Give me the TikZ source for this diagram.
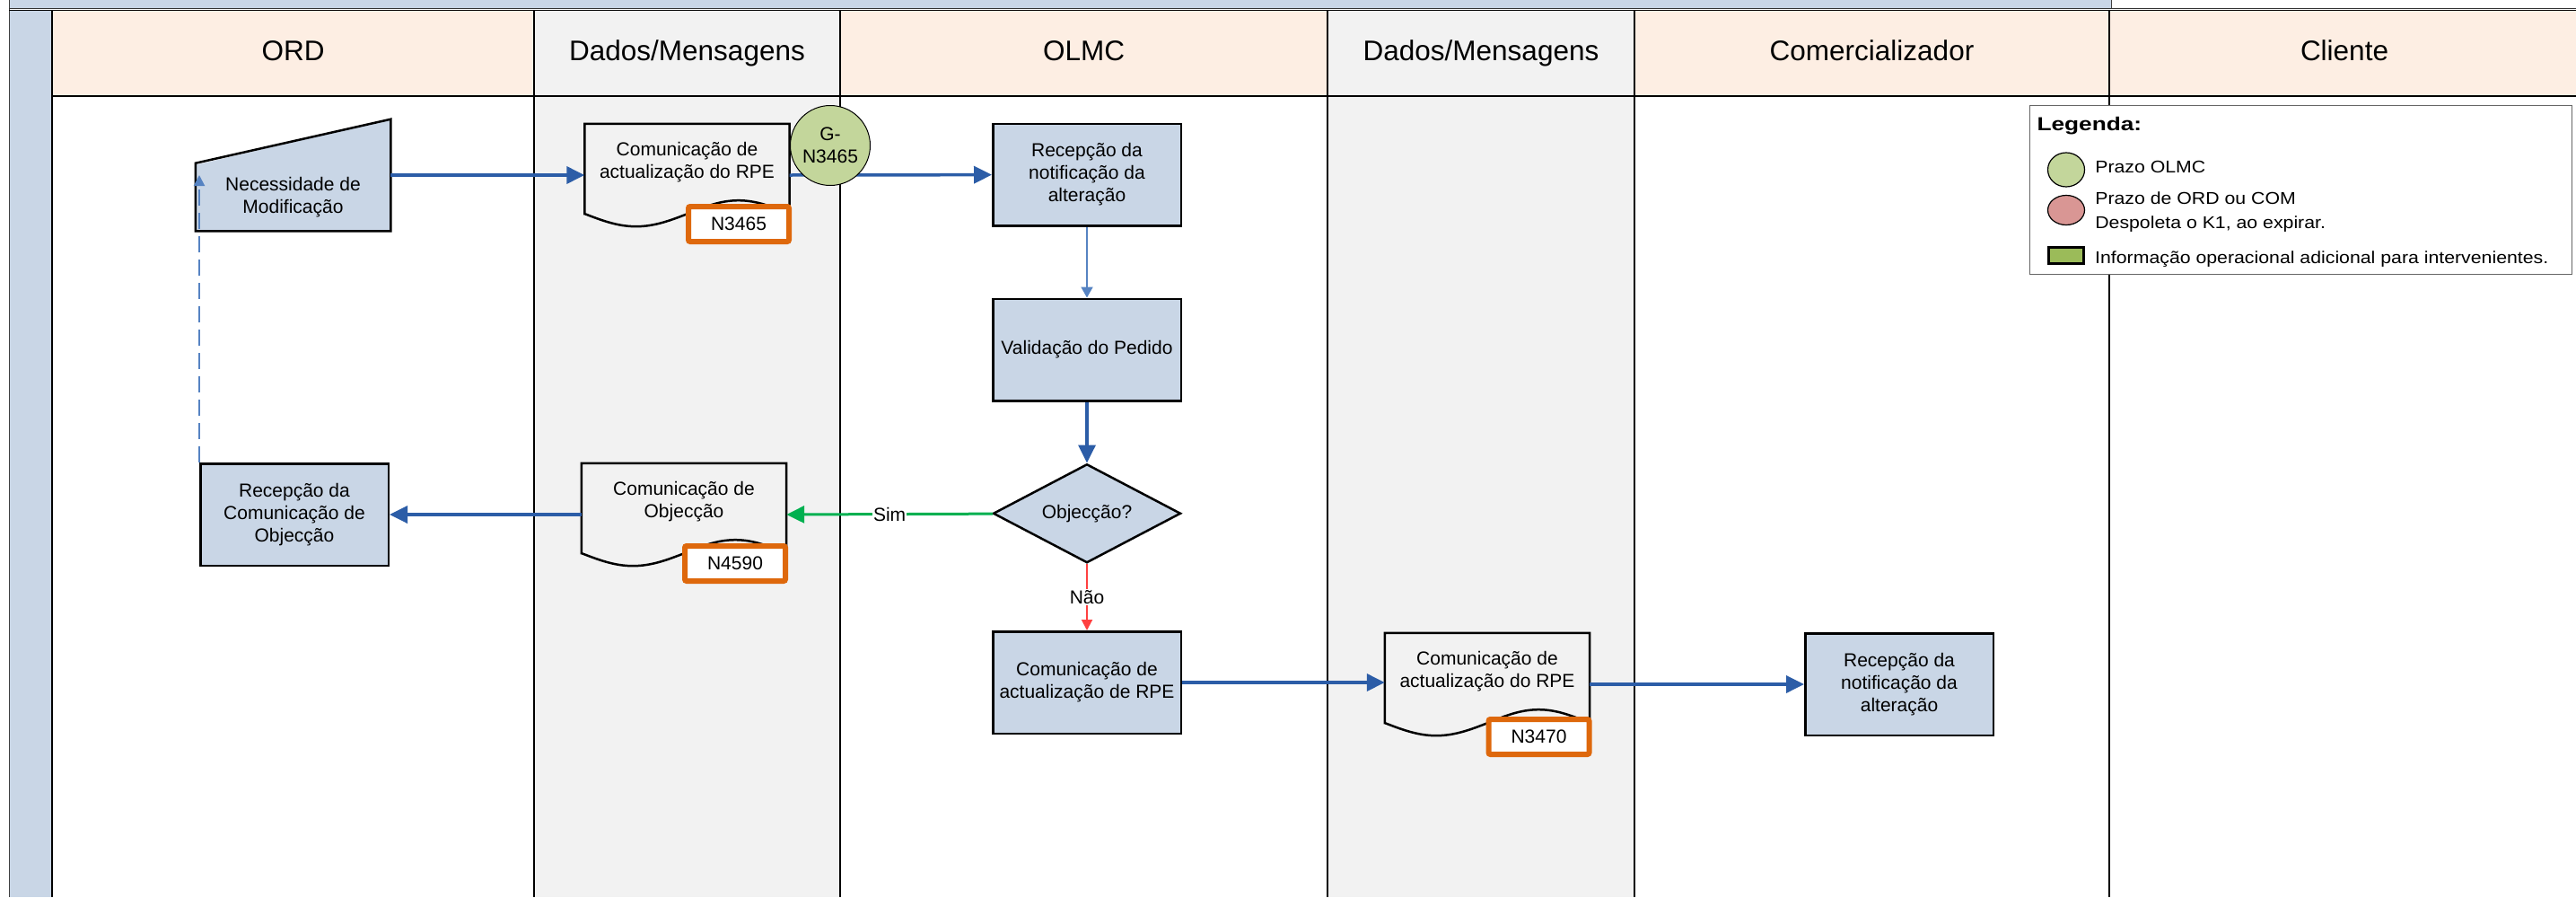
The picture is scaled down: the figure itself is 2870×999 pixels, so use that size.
\documentclass[tikz,border=0pt]{standalone}
\usepackage{fontspec}
\usepackage{graphicx}
\setmainfont{Liberation Sans}
\usetikzlibrary{arrows.meta,positioning,shapes.geometric}

\definecolor{procblue}{RGB}{201,214,230}
\definecolor{headpeach}{RGB}{253,238,227}
\definecolor{lanegray}{RGB}{242,242,242}
\definecolor{flowblue}{RGB}{44,93,167}
\definecolor{thinblue}{RGB}{86,131,194}
\definecolor{yesgreen}{RGB}{0,176,80}
\definecolor{nored}{RGB}{255,64,64}
\definecolor{reforange}{RGB}{222,104,12}
\definecolor{prazogreen}{RGB}{195,214,155}
\definecolor{prazored}{RGB}{217,150,148}
\definecolor{infogreen}{RGB}{155,187,89}

\tikzset{
  proc/.style={draw,rectangle,fill=procblue,line width=2.5pt,minimum width=209.5pt,minimum height=113.5pt,align=center,inner sep=2pt},
  decis/.style={draw,diamond,fill=procblue,line width=2.5pt,minimum width=209pt,minimum height=110pt,inner sep=0pt,aspect=1.9},
  docbox/.style={rectangle,minimum width=228pt,minimum height=86pt,align=center,inner sep=0pt},
  nref/.style={draw=reforange,fill=white,line width=6pt,rounded corners=2pt,minimum width=112pt,minimum height=39pt,inner sep=0pt},
  prazo/.style={draw,circle,fill=prazogreen,line width=1pt,minimum size=89pt,inner sep=0pt,align=center},
  flow/.style={draw=flowblue,line width=3.5pt,-{Triangle[length=20pt,width=19pt]}},
  thinflow/.style={draw=thinblue,line width=2pt,-{Triangle[length=12pt,width=13pt]}},
  yesflow/.style={draw=yesgreen,line width=3pt,-{Triangle[length=20pt,width=19pt]}},
  noflow/.style={draw=nored,line width=2pt,-{Triangle[length=12pt,width=12pt]}},
  dashflow/.style={draw=thinblue,line width=2pt,dash pattern=on 18pt off 8pt,-{Triangle[length=12pt,width=12pt]}},
  lbl/.style={fill=white,inner sep=1pt},
  legtext/.style={font=\fontsize{19pt}{27pt}\selectfont,align=left,inner sep=2pt}
}

% document outline with a wavy bottom, drawn round a docbox node
\newcommand{\docwave}[1]{%
  \draw[line width=2.5pt] ([yshift=-14pt]#1.south west) -- (#1.north west) -- (#1.north east)
    -- ([yshift=-14pt]#1.south east) sin ++(-57pt,15pt) cos ++(-57pt,-15pt)
    sin ++(-57pt,-14pt) cos ++(-57pt,14pt) -- cycle;}
\newcommand{\legw}[1]{\scalebox{1.12}[1]{#1}}

\begin{document}
\begin{tikzpicture}[x=1pt,y=-1pt,font=\fontsize{21pt}{25pt}\selectfont]
  \useasboundingbox (0,0) rectangle (2870,999);

  % Lanes
  \fill[white] (0,0) rectangle (2870,999);
  \fill[procblue] (10,0) rectangle (2352,9);
  \fill[procblue] (10,11) rectangle (58,999);
  \fill[headpeach] (58,11) rectangle (2870,107);
  \fill[lanegray] (595,11) rectangle (936,999);
  \fill[lanegray] (1479,11) rectangle (1821,999);
  \draw[line width=1pt,black!75] (10,0) -- (10,999);
  \draw[line width=1pt,black!75] (2352,0) -- (2352,9);
  \draw[line width=0.9pt,black!80] (10,9) -- (2870,9);
  \draw[line width=0.9pt] (10,11.5) -- (2870,11.5);
  \draw[line width=1.2pt] (58,107) -- (2870,107);
  \foreach \x in {58,595,936,1479,1821}
    \draw[line width=1.2pt] (\x,11) -- (\x,999);
  \draw[line width=2pt] (2350,11) -- (2350,999);

  \begin{scope}[every node/.style={font=\fontsize{31.5pt}{36pt}\selectfont,text height=23pt,text depth=6pt}]
    \node (hord)  at (326.5,59)  {ORD};
    \node (hdad1) at (765.5,59)  {Dados/Mensagens};
    \node (holmc) at (1207.5,59) {OLMC};
    \node (hdad2) at (1650,59)   {Dados/Mensagens};
    \node (hcom)  at (2085.5,59) {Comercializador};
    \node (hcli)  at (2612,59)   {Cliente};
  \end{scope}

  % Manual input
  \node[proc,draw=none,minimum width=215pt,minimum height=73pt] (necess) at (326.5,219.5) {Necessidade de\\Modificação};
  \fill[procblue] ([yshift=-2pt]necess.north west) -- ([yshift=49pt]necess.north east) -- ([yshift=-2pt]necess.north east) -- cycle;
  \draw[line width=2.5pt] (necess.south west) -- (necess.north west) -- ([yshift=49pt]necess.north east) -- (necess.south east) -- cycle;

  \begin{scope}[every node/.style={proc}]
    \node (recolmc) at (1211,194.5) {Recepção da\\notificação da\\alteração};
    \node (valid) at (recolmc.south) [below=79pt] {Validação do Pedido};
    \node (recobj) at (328,573) {Recepção da\\Comunicação de\\Objecção};
    \node (reccom) at (2116,762) {Recepção da\\notificação da\\alteração};
  \end{scope}
  \node[decis] (objq) at (valid.south) [below=68pt] {Objecção?};
  \node[proc] (comrpe) at (objq.south) [below=74pt] {Comunicação de\\actualização de RPE};

  % Messages
  \begin{scope}[every node/.style={docbox}]
    \node (doc1) at (765.5,181) {Comunicação de\\actualização do RPE};
    \node (doc3) at (762,559) {Comunicação de\\Objecção};
    \node (doc2) at (1657,748) {Comunicação de\\actualização do RPE};
  \end{scope}
  \docwave{doc1}
  \docwave{doc3}
  \docwave{doc2}
  \coordinate (doc1in)  at ([yshift=-14pt]doc1.west);
  \coordinate (doc1out) at ([yshift=-14pt]doc1.east);
  \coordinate (doc3in)  at ([yshift=-14pt]doc3.east);
  \coordinate (doc3out) at ([yshift=-14pt]doc3.west);
  \coordinate (doc2out) at ([yshift=-14pt]doc2.east);

  \begin{scope}[every node/.style={nref}]
    \node (n3465) at (823,249.5)    {N3465};
    \node (n4590) at (819,627.5)    {N4590};
    \node (n3470) at (1714.5,820.5) {N3470};
  \end{scope}

  \draw[flow] (necess.east |- doc1in) -- (doc1in);
  \draw[flow] (doc1out) -- (recolmc);
  \draw[thinflow] (recolmc) -- (valid);
  \draw[flow] (valid) -- (objq);
  \draw[yesflow] (objq) -- node[lbl] {Sim} (doc3in);
  \draw[noflow] (objq) -- node[lbl] {Não} (comrpe);
  \draw[flow] (comrpe) -- (comrpe -| doc2.west);
  \draw[flow] (doc2out) -- (reccom);
  \draw[flow] (doc3out) -- (recobj);
  \draw[dashflow] (recobj.north west) -- (recobj.north west |- doc1in);

  % Deadline
  \node[prazo] (gn3465) at (925,162) {G-\\N3465};

  % Legenda
  \node[draw=black!60,fill=white,line width=1.5pt,minimum width=604pt,minimum height=188pt,inner sep=0pt] (legbox) at (2563.5,211.5) {};
  \node[anchor=base west,font=\bfseries\fontsize{21pt}{25pt}\selectfont] (legtit) at (2266,145) {\scalebox{1.25}[1]{Legenda:}};
  \node[draw,ellipse,fill=prazogreen,line width=1.2pt,minimum width=41pt,minimum height=38pt,inner sep=0pt] (legolmc) at (2302,189) {};
  \node[draw,ellipse,fill=prazored,line width=1.2pt,minimum width=41pt,minimum height=33pt,inner sep=0pt] (legord) at (2302,234) {};
  \node[draw,rectangle,fill=infogreen,line width=3pt,minimum width=39pt,minimum height=18pt,inner sep=0pt] (leginfo) at (2302,284.5) {};
  \node[legtext,right=9pt of legolmc,yshift=3pt] (tolmc) {\legw{Prazo OLMC}};
  \node[legtext,right=9pt of legord,yshift=-2pt] (tord) {\legw{Prazo de ORD ou COM}\\\legw{Despoleta o K1, ao expirar.}};
  \node[legtext,right=9pt of leginfo,yshift=-4pt] (tinfo) {\legw{Informação operacional adicional para intervenientes.}};

\end{tikzpicture}
\end{document}
